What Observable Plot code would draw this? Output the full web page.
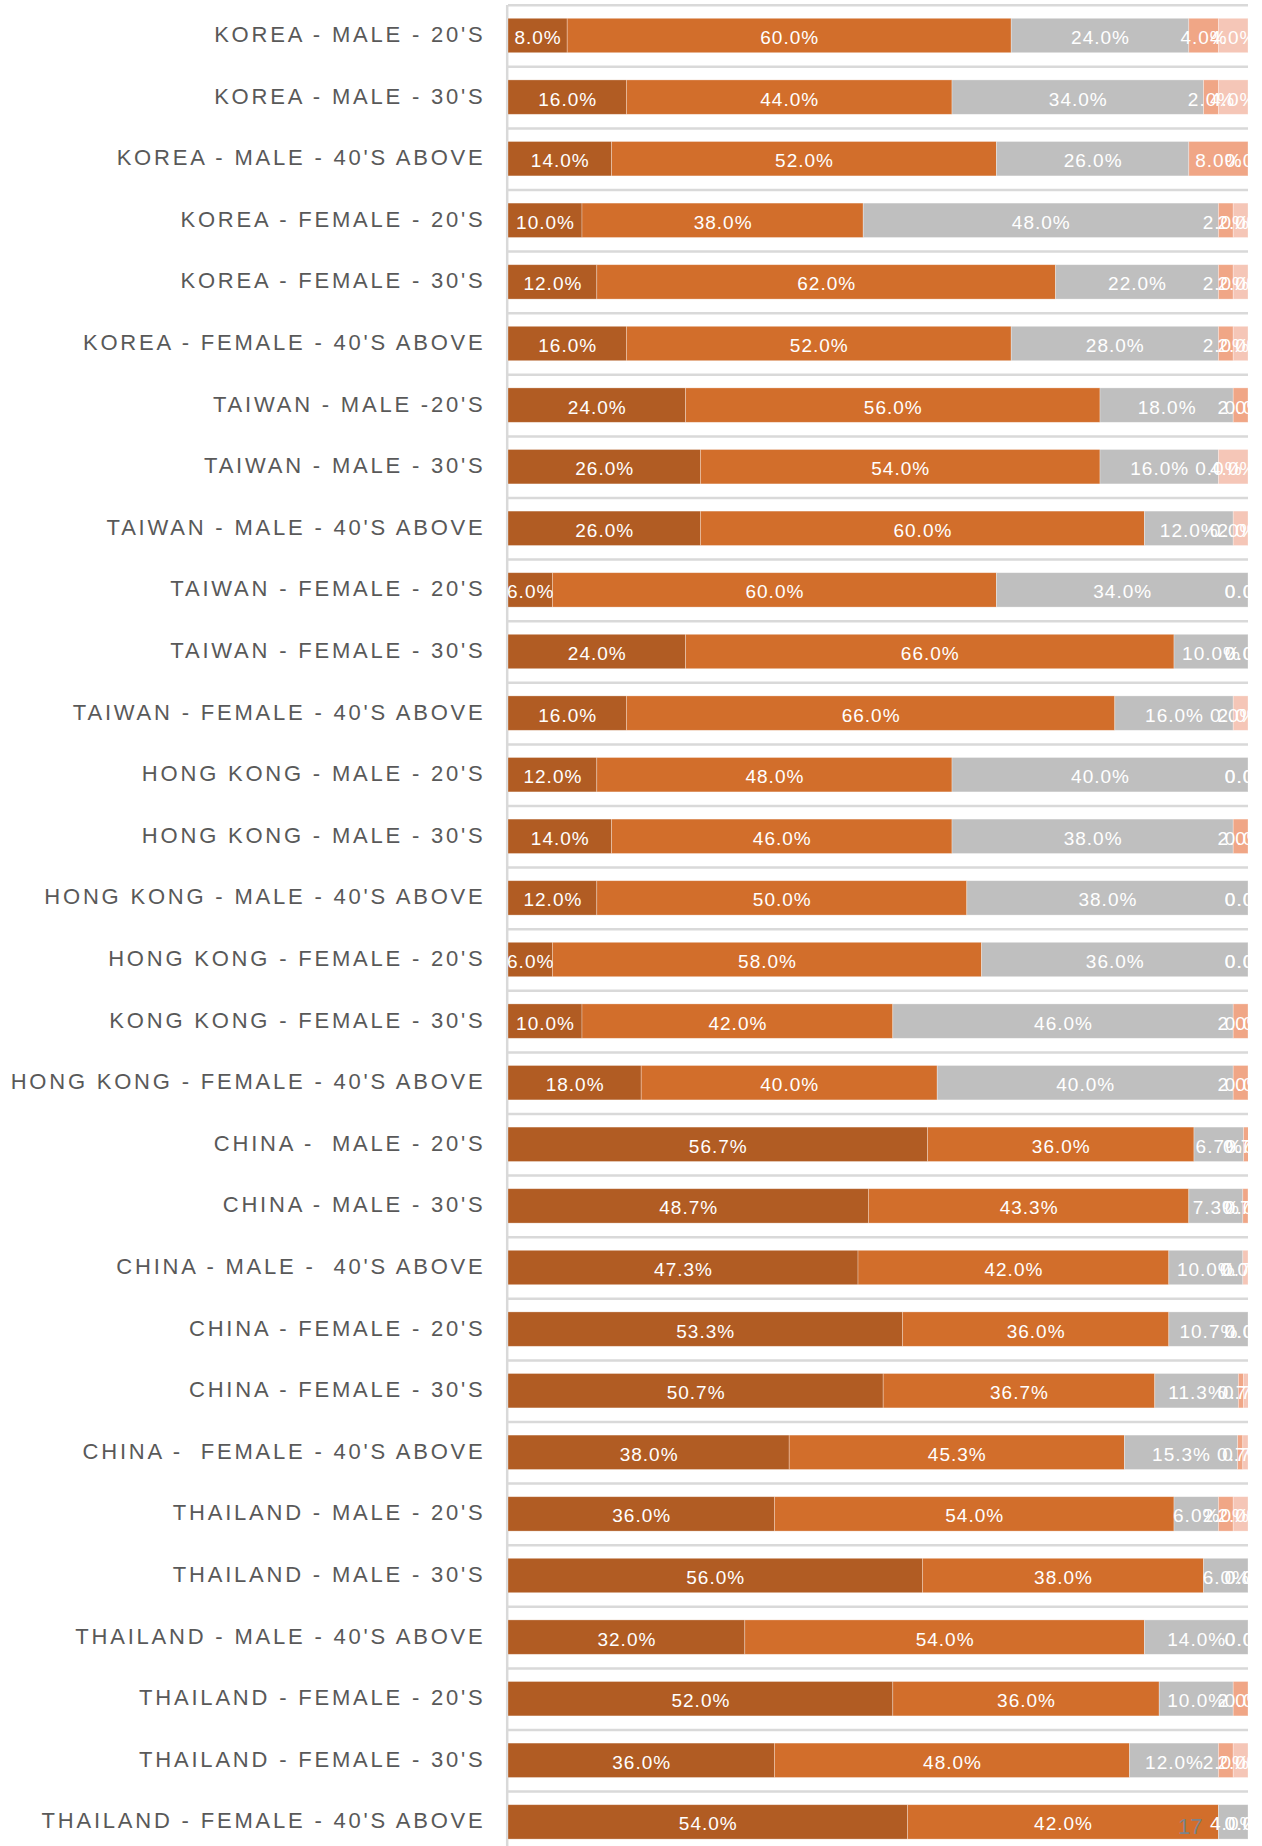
<!DOCTYPE html>
<html><head><meta charset="utf-8">
<script src="https://cdn.jsdelivr.net/npm/d3@7"></script>
<script src="https://cdn.jsdelivr.net/npm/@observablehq/plot@0.6"></script>
<style>
html,body{margin:0;padding:0;background:#fff;}
#wrap{position:relative;width:1262px;height:1846px;overflow:hidden;background:#fff;}
#chart svg{overflow:hidden;}
g[aria-label="y-axis tick label"] text{letter-spacing:2.8px;}
g[aria-label="text"] text{letter-spacing:1px;}
#page{position:absolute;left:1178px;top:1814px;font:22px "Liberation Sans",Arial,sans-serif;color:#7c8389;}
</style></head><body>
<div id="wrap"><div id="chart"></div><div id="page"></div></div>
<script>
const rowLabels = [
  "KOREA - MALE - 20'S","KOREA - MALE - 30'S","KOREA - MALE - 40'S ABOVE",
  "KOREA - FEMALE - 20'S","KOREA - FEMALE - 30'S","KOREA - FEMALE - 40'S ABOVE",
  "TAIWAN - MALE -20'S","TAIWAN - MALE - 30'S","TAIWAN - MALE - 40'S ABOVE",
  "TAIWAN - FEMALE - 20'S","TAIWAN - FEMALE - 30'S","TAIWAN - FEMALE - 40'S ABOVE",
  "HONG KONG - MALE - 20'S","HONG KONG - MALE - 30'S","HONG KONG - MALE - 40'S ABOVE",
  "HONG KONG - FEMALE - 20'S","KONG KONG - FEMALE - 30'S","HONG KONG - FEMALE - 40'S ABOVE",
  "CHINA -  MALE - 20'S","CHINA - MALE - 30'S","CHINA - MALE -  40'S ABOVE",
  "CHINA - FEMALE - 20'S","CHINA - FEMALE - 30'S","CHINA -  FEMALE - 40'S ABOVE",
  "THAILAND - MALE - 20'S","THAILAND - MALE - 30'S","THAILAND - MALE - 40'S ABOVE",
  "THAILAND - FEMALE - 20'S","THAILAND - FEMALE - 30'S","THAILAND - FEMALE - 40'S ABOVE"
];
const seriesNames = ["Series 1","Series 2","Series 3","Series 4","Series 5"];
const seriesColors = ["#B15C23","#D26E2B","#BFBFBF","#F0A686","#F5C6B7"];
const series1 = [8,16,14,10,12,16,24,26,26,6,24,16,12,14,12,6,10,18,56.7,48.7,47.3,53.3,50.7,38,36,56,32,52,36,54];
const series2 = [60,44,52,38,62,52,56,54,60,60,66,66,48,46,50,58,42,40,36,43.3,42,36,36.7,45.3,54,38,54,36,48,42];
const series3 = [24,34,26,48,22,28,18,16,12,34,10,16,40,38,38,36,46,40,6.7,7.3,10,10.7,11.3,15.3,6,6,14,10,12,4];
const series4 = [4,2,8,2,2,2,2,0,0,0,0,0,0,2,0,0,2,2,0.7,0.7,0,0,0.7,0.7,2,0,0,2,2,0];
const series5 = [4,4,0,2,2,2,0,4,2,0,0,2,0,0,0,0,0,0,0,0,0.7,0,0.7,0.7,2,0,0,0,2,0];
const pageNumber = "17";

const allSeries = [series1, series2, series3, series4, series5];
const rows = [];
rowLabels.forEach((label, i) => {
  allSeries.forEach((arr, j) => rows.push({label, series: seriesNames[j], value: arr[i]}));
});

const bandStep = 61.6, rangeTop = 4.7, bandPad = 0.4416;
const chart = Plot.plot({
  width: 1248, height: 1846,
  marginLeft: 508, marginRight: 0, marginTop: 5, marginBottom: 0,
  style: {fontFamily: '"Liberation Sans", Arial, sans-serif', background: "white", overflow: "hidden"},
  x: {domain: [0, 100], axis: null},
  y: {domain: rowLabels, range: [rangeTop, rangeTop + bandStep * rowLabels.length], paddingInner: bandPad, paddingOuter: bandPad / 2, round: false, axis: null, label: null},
  color: {domain: seriesNames, range: seriesColors},
  marks: [
    Plot.ruleY(rowLabels, {y: d => d, dy: -bandStep / 2, stroke: "#d9d9d9", strokeWidth: 2.5}),
    Plot.ruleX([0], {stroke: "#d9d9d9", strokeWidth: 2.5, dx: -1.3}),
    Plot.barX(rows, Plot.stackX({x: "value", y: "label", fill: "series", stroke: "white", strokeWidth: 0.75, strokeOpacity: 0.4})),
    Plot.text(rows, Plot.stackX({x: "value", y: "label", z: "series", text: d => d.value.toFixed(1) + "%", fill: "white", fontSize: 19, dy: 2})),
    Plot.axisY({tickSize: 0, tickPadding: 23, fontSize: 22, color: "#595959", label: null, dy: -1})
  ]
});
document.getElementById("chart").appendChild(chart);
document.getElementById("page").textContent = pageNumber;
</script>
</body></html>
